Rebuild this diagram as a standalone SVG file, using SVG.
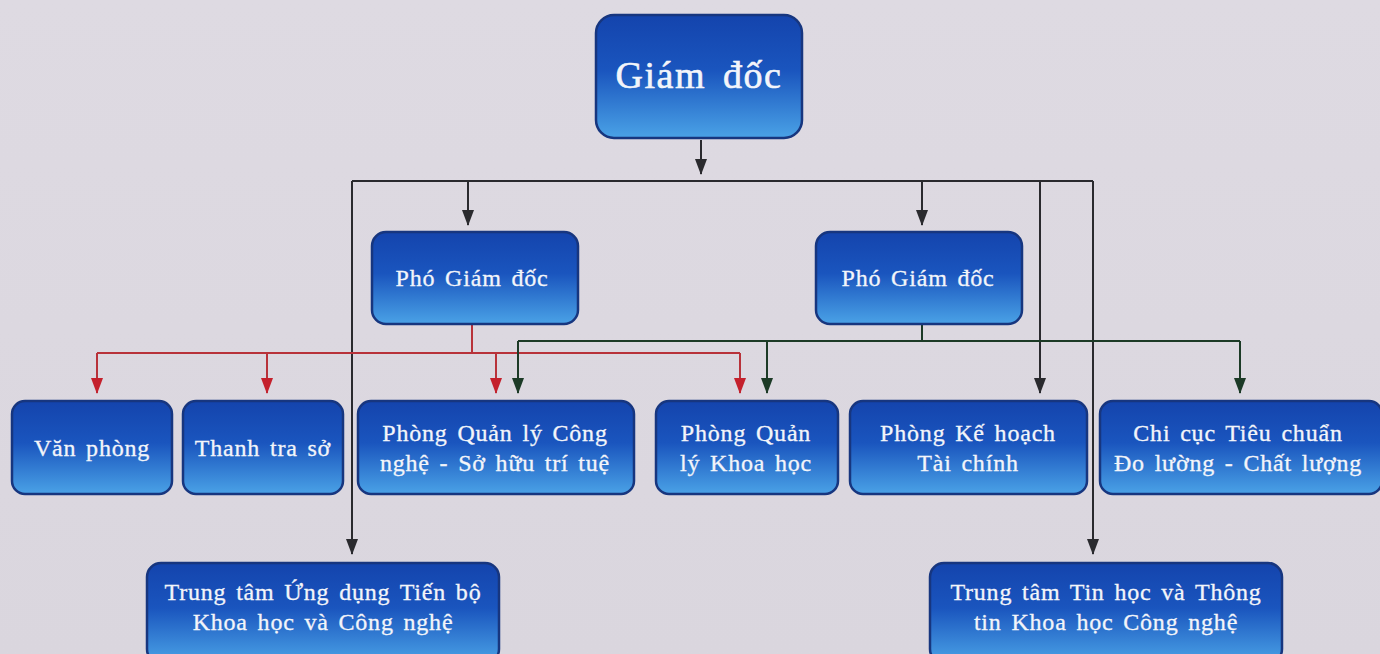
<svg xmlns="http://www.w3.org/2000/svg" width="1380" height="654" viewBox="0 0 1380 654">
<defs>
<linearGradient id="bg" x1="0" y1="0" x2="0" y2="1">
<stop offset="0" stop-color="#dedae2"/>
<stop offset="1" stop-color="#dad6de"/>
</linearGradient>
<linearGradient id="box" x1="0" y1="0" x2="0" y2="1">
<stop offset="0" stop-color="#1444ad"/>
<stop offset="0.45" stop-color="#1a55be"/>
<stop offset="1" stop-color="#4aa2e6"/>
</linearGradient>
<marker id="ak" markerWidth="12" markerHeight="16" refX="6" refY="15" markerUnits="userSpaceOnUse" viewBox="0 0 12 16">
<path d="M0,0 L12,0 L6,16 Z" fill="#2a2a2e"/>
</marker>
<marker id="ar" markerWidth="12" markerHeight="16" refX="6" refY="15" markerUnits="userSpaceOnUse" viewBox="0 0 12 16">
<path d="M0,0 L12,0 L6,16 Z" fill="#c4202c"/>
</marker>
<marker id="ag" markerWidth="12" markerHeight="16" refX="6" refY="15" markerUnits="userSpaceOnUse" viewBox="0 0 12 16">
<path d="M0,0 L12,0 L6,16 Z" fill="#1c3a26"/>
</marker>
</defs>
<style>
.n rect{fill:url(#box);stroke:#17367f;stroke-width:2.5}
.t{font-family:"Liberation Serif","DejaVu Serif",serif;fill:#f3f5fa;text-anchor:middle;font-size:24px;letter-spacing:0.8px;word-spacing:3px;stroke:#f3f5fa;stroke-width:0.3px}
.k{fill:none;stroke:#2a2a2e;stroke-width:2}
.r{fill:none;stroke:#b8323a;stroke-width:2}
.g{fill:none;stroke:#1c3a26;stroke-width:2}
</style>
<rect width="1380" height="654" fill="url(#bg)"/>

<g id="connectors">
<path class="k" d="M701,140 V174" marker-end="url(#ak)"/>
<path class="k" d="M352,181 H1093"/>
<path class="k" d="M468,181 V225" marker-end="url(#ak)"/>
<path class="k" d="M922,181 V225" marker-end="url(#ak)"/>
<path class="k" d="M1040,181 V393" marker-end="url(#ak)"/>
<path class="k" d="M1093,181 V554" marker-end="url(#ak)"/>
<path class="k" d="M352,181 V554" marker-end="url(#ak)"/>
<path class="r" d="M472,325 V353 M97,353 H740"/>
<path class="r" d="M97,353 V393" marker-end="url(#ar)"/>
<path class="r" d="M267,353 V393" marker-end="url(#ar)"/>
<path class="r" d="M496,353 V393" marker-end="url(#ar)"/>
<path class="r" d="M740,353 V393" marker-end="url(#ar)"/>
<path class="g" d="M922,325 V341 M518,341 H1240"/>
<path class="g" d="M518,341 V393" marker-end="url(#ag)"/>
<path class="g" d="M767,341 V393" marker-end="url(#ag)"/>
<path class="g" d="M1240,341 V393" marker-end="url(#ag)"/>
</g>

<g id="giam-doc" class="n">
<rect x="596" y="15" width="206" height="123" rx="18"/>
<text class="t" x="699" y="88" style="font-size:38px;letter-spacing:1.5px;word-spacing:6px;stroke-width:0.6px">Giám đốc</text>
</g>
<g id="pgd1" class="n">
<rect x="372" y="232" width="206" height="92" rx="14"/>
<text class="t" x="472" y="286">Phó Giám đốc</text>
</g>
<g id="pgd2" class="n">
<rect x="816" y="232" width="206" height="92" rx="14"/>
<text class="t" x="918" y="286">Phó Giám đốc</text>
</g>
<g id="van-phong" class="n">
<rect x="12" y="401" width="160" height="93" rx="13"/>
<text class="t" x="92" y="456">Văn phòng</text>
</g>
<g id="thanh-tra" class="n">
<rect x="183" y="401" width="160" height="93" rx="13"/>
<text class="t" x="263" y="456">Thanh tra sở</text>
</g>
<g id="qlcn" class="n">
<rect x="358" y="401" width="276" height="93" rx="13"/>
<text class="t" x="495" y="441">Phòng Quản lý Công</text>
<text class="t" x="495" y="471">nghệ - Sở hữu trí tuệ</text>
</g>
<g id="qlkh" class="n">
<rect x="656" y="401" width="182" height="93" rx="13"/>
<text class="t" x="746" y="441">Phòng Quản</text>
<text class="t" x="746" y="471">lý Khoa học</text>
</g>
<g id="khtc" class="n">
<rect x="850" y="401" width="237" height="93" rx="13"/>
<text class="t" x="968" y="441">Phòng Kế hoạch</text>
<text class="t" x="968" y="471">Tài chính</text>
</g>
<g id="chi-cuc" class="n">
<rect x="1100" y="401" width="282" height="93" rx="13"/>
<text class="t" x="1238" y="441">Chi cục Tiêu chuẩn</text>
<text class="t" x="1238" y="471">Đo lường - Chất lượng</text>
</g>
<g id="tt-ung-dung" class="n">
<rect x="147" y="563" width="352" height="100" rx="14"/>
<text class="t" x="323" y="600">Trung tâm Ứng dụng Tiến bộ</text>
<text class="t" x="323" y="630">Khoa học và Công nghệ</text>
</g>
<g id="tt-tin-hoc" class="n">
<rect x="930" y="563" width="352" height="100" rx="14"/>
<text class="t" x="1106" y="600">Trung tâm Tin học và Thông</text>
<text class="t" x="1106" y="630">tin Khoa học Công nghệ</text>
</g>
</svg>
